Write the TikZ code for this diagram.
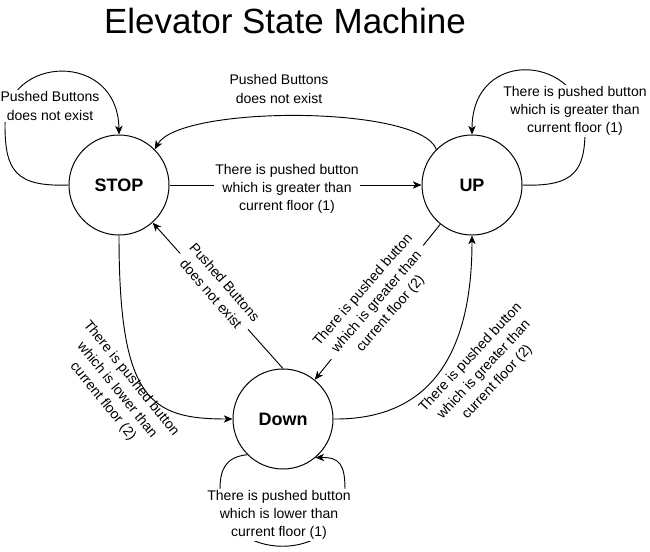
\documentclass[tikz,border=0pt]{standalone}
\usepackage{fontspec}
\setmainfont{Liberation Sans}
\usetikzlibrary{arrows.meta}
\begin{document}
\begin{tikzpicture}[x=0.75pt,y=-0.75pt,
  state/.style={draw, circle, minimum size=75pt, inner sep=0pt, line width=0.75pt,
    font=\fontsize{13.5pt}{16pt}\selectfont\bfseries},
  lbl/.style={align=center, font=\fontsize{10.5pt}{13.6pt}\selectfont, inner sep=1pt},
  lblw/.style={lbl, fill=white},
  ln/.style={line width=0.7pt},
  arr/.style={ln, -{Stealth[length=6.5pt,width=5.5pt,inset=1.8pt]}}]
\path[use as bounding box] (0,0) rectangle (650,551);

\node[anchor=base, font=\fontsize{26.25pt}{30pt}\selectfont] (title) at (285,33) {Elevator State Machine};

\node[state] (STOP) at (119,185) {STOP};
\node[state] (UP) at (472,185) {UP};
\node[state] (Down) at (283,419) {Down};

% STOP self loop
\draw[arr] (STOP.west) .. controls (15,187) and (5,170) .. (5,125)
  .. controls (5,55) and (118,50) .. (STOP.north);
\node[lblw] (l1) at (50,106) {Pushed Buttons\\does not exist};

% UP -> STOP arc
\draw[arr] (UP.135) .. controls (420,105) and (180,105) .. (STOP.45);
\node[lbl] (l2) at (279,89) {Pushed Buttons\\does not exist};

% STOP -> UP
\draw[arr] (STOP.east) -- (UP.west);
\node[lblw] (l3) at (287,189) {There is pushed button\\which is greater than\\current floor (1)};

% UP self loop
\draw[arr] (UP.east) .. controls (575,187) and (585,170) .. (585,130)
  .. controls (585,55) and (472,45) .. (UP.north);
\node[lblw] (l4) at (575,111) {There is pushed button\\which is greater than\\current floor (1)};

% STOP -> Down
\draw[arr] (STOP.south) .. controls (119,400) and (150,419) .. (Down.west);
\node[lbl, rotate=-51] (l5) at (117,390) {There is pushed button\\which is lower than\\current floor (2)};

% Down -> STOP
\draw[arr] (Down.north) -- (STOP);
\node[lblw, rotate=-49] (l6) at (218,288) {Pushed Buttons\\does not exist};

% UP -> Down
\draw[arr] (UP) -- (Down);
\node[lblw, rotate=49] (l7) at (377,302) {There is pushed button\\which is greater than\\current floor (2)};

% Down -> UP
\draw[arr] (Down.east) .. controls (440,420) and (472,340) .. (UP.south);
\node[lbl, rotate=47] (l8) at (484,370) {There is pushed button\\which is greater than\\current floor (2)};

% Down self loop
\draw[arr] (Down.225) .. controls (225,457) and (220,470) .. (220,490)
  .. controls (220,565) and (345,565) .. (345,490)
  .. controls (345,465) and (340,457) .. (Down.-50);
\node[lblw] (l9) at (279,515) {There is pushed button\\which is lower than\\current floor (1)};
\end{tikzpicture}
\end{document}
